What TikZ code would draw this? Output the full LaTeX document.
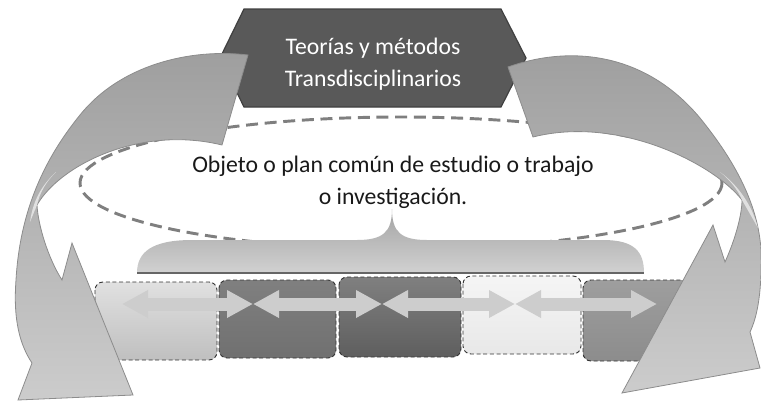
\documentclass[tikz,border=0pt]{standalone}
\usepackage{fontspec}
\setmainfont{Carlito}
\usetikzlibrary{arrows.meta,calc,positioning}

\definecolor{hexgray}{HTML}{595959}
\definecolor{ovalgray}{HTML}{7F7F7F}
\definecolor{linkgray}{HTML}{CDCDCD}
\definecolor{edgegray}{HTML}{8C8C8C}

\begin{document}
\begin{tikzpicture}[x=0.75pt, y=-0.75pt,
    every node/.style={font=\fontsize{17.8}{24.3}\selectfont, align=center},
    ovalline/.style={draw=ovalgray, line width=2.2pt, dash pattern=on 9pt off 5pt},
    hexagon/.style={fill=hexgray, draw=black!75, line width=0.9pt},
    bracebar/.style={top color=black!36, bottom color=black!18, draw=none},
    stagebox/.style={rounded corners=6pt, draw=black!80, line width=0.7pt, dash pattern=on 3pt off 2pt},
    link/.style={draw=linkgray, line width=9.75pt,
      {Triangle[length=19.5pt,width=19.5pt]}-{Triangle[length=19.5pt,width=19.5pt]}},
    bigarrow/.style={top color=black!38, bottom color=black!20, draw=edgegray, line width=0.6pt}]
    \useasboundingbox (0,0) rectangle (761,401);
    % Dashed oval
    \draw[ovalline] (401,183) ellipse [x radius=321, y radius=66];
    \node[text=black!90] (object) at (393,182) {Objeto o plan común de estudio o trabajo\\o investigación.};
    % Brace
    \path[bracebar] (137,273) .. controls (137,252) and (152,240) .. (192,240) -- (357,240)
        .. controls (383,240) and (392,232) .. (392,209)
        .. controls (392,232) and (401,240) .. (427,240) -- (603,240)
        .. controls (635,240) and (644,252) .. (644,273) -- cycle;
    \draw[black!60, line width=1.5pt] (137,273) -- (644,273);
    % Stages
    \draw[stagebox, top color=black!12, bottom color=black!25] (95,282) rectangle (217,360);
    \draw[stagebox, top color=black!50, bottom color=black!56] (219,280) rectangle (336,358);
    \draw[stagebox, top color=black!50, bottom color=black!63] (339,277) rectangle (461,357);
    \draw[stagebox, top color=black!4, bottom color=black!9] (463,276) rectangle (581,354);
    \draw[stagebox, top color=black!38, bottom color=black!45] (583,280) rectangle (700,361);
    % Links between stages
    \coordinate (a1) at (122,304);
    \coordinate (a2) at (253,304);
    \coordinate (a3) at (382,304);
    \coordinate (a4) at (515,304);
    \coordinate (a5) at (657,304);
    \foreach \s/\t in {a1/a2, a2/a3, a3/a4, a4/a5}
        \draw[link] (\s) -- (\t);
    % Hexagon
    \draw[hexagon] (244,9) -- (501,9) -- (526,58) -- (501,107) -- (244,107) -- (220,58) -- cycle;
    \node[text=white] (theory) at (373,64) {Teorías y métodos\\Transdisciplinarios};
    % Left curved arrow
    \path[bigarrow] (248,55) .. controls (190,48) and (120,65) .. (80,115)
        .. controls (45,158) and (20,210) .. (16,280)
        .. controls (13,320) and (20,345) .. (32,363)
        -- (18,400) -- (133,395) -- (72,243) -- (62,280)
        .. controls (48,258) and (38,225) .. (37,205)
        .. controls (60,165) and (140,125) .. (222,145) -- cycle;
    \fill[black!12] (37,205) .. controls (40,192) and (46,182) .. (56,172)
        .. controls (42,185) and (33,200) .. (30,222) -- cycle;
    % Right curved arrow
    \path[bigarrow] (508,67) .. controls (570,45) and (645,52) .. (700,118)
        .. controls (730,155) and (758,200) .. (761,250)
        .. controls (762,290) and (758,315) .. (750,332)
        -- (760,368) -- (622,393) -- (713,225) -- (725,262)
        .. controls (735,240) and (742,215) .. (742,200)
        .. controls (715,165) and (620,115) .. (533,137) -- cycle;
    \fill[black!12] (742,200) .. controls (738,190) and (730,180) .. (720,172)
        .. controls (738,185) and (752,205) .. (758,228) -- cycle;
\end{tikzpicture}
\end{document}
